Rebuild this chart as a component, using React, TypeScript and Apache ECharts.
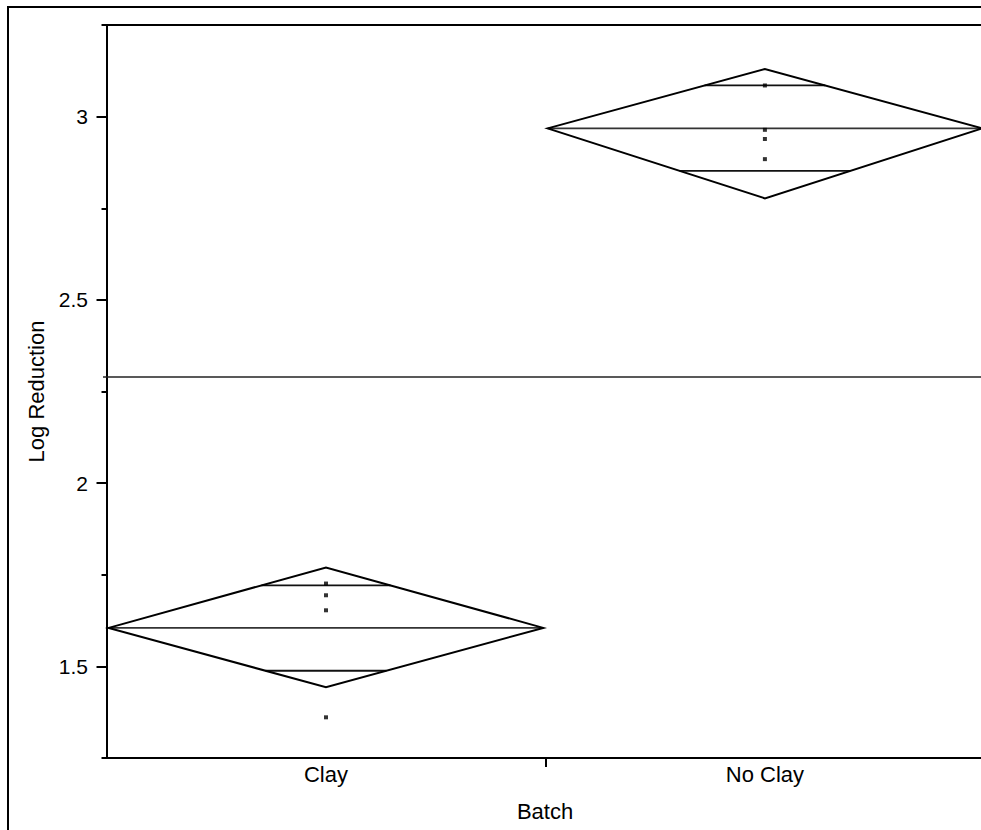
import React, { useEffect, useRef } from 'react';
import * as echarts from 'echarts';

// ---- data ----
const categories = ['Clay', 'No Clay'];
const groupMeans = [1.605, 2.968];
const ciLower = [1.443, 2.777];
const ciUpper = [1.77, 3.13];
const overlapLower = [1.488, 2.852];
const overlapUpper = [1.721, 3.085];
const clayPoints = [1.726, 1.694, 1.653, 1.361];
const noClayPoints = [3.085, 2.964, 2.939, 2.884];
const groupPoints = [clayPoints, noClayPoints];
const grandMean = 2.286;
const yMajorTicks = [1.5, 2, 2.5, 3];
const yMinorTicks = [1.25, 1.75, 2.25, 2.75, 3.25];
const yMin = 1.25;
const yMax = 3.25;
const xTitle = 'Batch';
const yTitle = 'Log Reduction';

const FONT = 'Arial, "Liberation Sans", Helvetica, sans-serif';

export default function App() {
  const ref = useRef<HTMLDivElement>(null);

  useEffect(() => {
    if (!ref.current) return;
    const chart = echarts.init(ref.current, null, { renderer: 'svg' });

    const halfW = 0.495;
    const diamondData = categories.map((_, i) => [
      i + 0.5,
      groupMeans[i],
      ciLower[i],
      ciUpper[i],
      overlapLower[i],
      overlapUpper[i],
    ]);

    const scatterData: number[][] = [];
    groupPoints.forEach((pts, i) => pts.forEach((v) => scatterData.push([i + 0.5, v])));

    const renderItem = (params: any, api: any) => {
      const c = api.value(0);
      const m = api.value(1);
      const lo = api.value(2);
      const hi = api.value(3);
      const olo = api.value(4);
      const ohi = api.value(5);
      const left = api.coord([c - halfW, m]);
      const right = api.coord([c + halfW, m]);
      const top = api.coord([c, hi]);
      const bottom = api.coord([c, lo]);
      const wHi = halfW * (1 - (ohi - m) / (hi - m));
      const wLo = halfW * (1 - (m - olo) / (m - lo));
      const oh1 = api.coord([c - wHi, ohi]);
      const oh2 = api.coord([c + wHi, ohi]);
      const ol1 = api.coord([c - wLo, olo]);
      const ol2 = api.coord([c + wLo, olo]);
      return {
        type: 'group',
        children: [
          {
            type: 'line',
            shape: { x1: left[0], y1: left[1], x2: right[0], y2: right[1] },
            style: { stroke: '#333', lineWidth: 1.6 },
          },
          {
            type: 'line',
            shape: { x1: oh1[0], y1: oh1[1], x2: oh2[0], y2: oh2[1] },
            style: { stroke: '#111', lineWidth: 1.8 },
          },
          {
            type: 'line',
            shape: { x1: ol1[0], y1: ol1[1], x2: ol2[0], y2: ol2[1] },
            style: { stroke: '#111', lineWidth: 1.8 },
          },
          {
            type: 'polygon',
            shape: { points: [left, top, right, bottom] },
            style: { fill: 'none', stroke: '#000', lineWidth: 2 },
          },
        ],
      };
    };

    const option: any = {
      animation: false,
      backgroundColor: '#fff',
      textStyle: { fontFamily: FONT },
      grid: {
        left: 103,
        top: 25,
        width: 884,
        height: 733,
        show: false,
        containLabel: false,
        outerBoundsMode: 'none',
      },
      graphic: [
        {
          type: 'rect',
          shape: { x: 8, y: 7, width: 1200, height: 1200 },
          style: { fill: 'none', stroke: '#000', lineWidth: 2 },
          silent: true,
        },
      ],
      xAxis: [
        {
          type: 'value',
          min: -0.008,
          max: 2.006,
          name: xTitle,
          nameLocation: 'middle',
          nameGap: 42,
          nameTextStyle: { fontSize: 22, color: '#000', fontFamily: FONT },
          axisLine: { show: true, lineStyle: { color: '#000', width: 2 } },
          axisTick: {
            show: true,
            length: 9,
            customValues: [1],
            lineStyle: { color: '#000', width: 2 },
          },
          axisLabel: {
            show: true,
            customValues: [0.5, 1.5],
            margin: 5,
            fontSize: 22,
            color: '#000',
            fontFamily: FONT,
            formatter: (v: number) => categories[Math.floor(v)] ?? '',
          },
          splitLine: { show: false },
        },
        {
          type: 'value',
          position: 'top',
          min: -0.008,
          max: 2.006,
          axisLine: { show: true, lineStyle: { color: '#000', width: 2 } },
          axisTick: { show: false },
          axisLabel: { show: false },
          splitLine: { show: false },
        },
      ],
      yAxis: [
        {
          type: 'value',
          min: yMin,
          max: yMax,
          name: yTitle,
          nameLocation: 'middle',
          nameGap: 56,
          nameTextStyle: { fontSize: 22, color: '#000', fontFamily: FONT },
          axisLine: { show: true, lineStyle: { color: '#000', width: 2 } },
          axisTick: {
            show: true,
            length: 10,
            customValues: yMajorTicks,
            lineStyle: { color: '#000', width: 2 },
          },
          axisLabel: {
            show: true,
            customValues: yMajorTicks,
            margin: 15,
            fontSize: 21,
            color: '#000',
            fontFamily: FONT,
            formatter: (v: number) => String(v),
          },
          splitLine: { show: false },
        },
        {
          type: 'value',
          min: yMin,
          max: yMax,
          position: 'left',
          offset: 0,
          axisLine: { show: false },
          axisTick: {
            show: true,
            length: 5,
            customValues: yMinorTicks,
            lineStyle: { color: '#000', width: 2 },
          },
          axisLabel: { show: false },
          splitLine: { show: false },
        },
      ],
      series: [
        {
          type: 'custom',
          renderItem,
          data: diamondData,
          encode: { x: 0, y: [1, 2, 3, 4, 5] },
          clip: false,
          silent: true,
          z: 3,
        },
        {
          type: 'scatter',
          data: scatterData,
          symbol: 'rect',
          symbolSize: 4,
          itemStyle: { color: '#000' },
          silent: true,
          z: 4,
          markLine: {
            silent: true,
            symbol: 'none',
            label: { show: false },
            lineStyle: { color: '#222', width: 1.5, type: 'solid' },
            data: [{ yAxis: grandMean }],
          },
        },
      ],
    };

    chart.setOption(option);
    return () => chart.dispose();
  }, []);

  return (
    <div
      ref={ref}
      style={{ position: 'absolute', left: 0, top: 0, width: 981, height: 830 }}
    />
  );
}
